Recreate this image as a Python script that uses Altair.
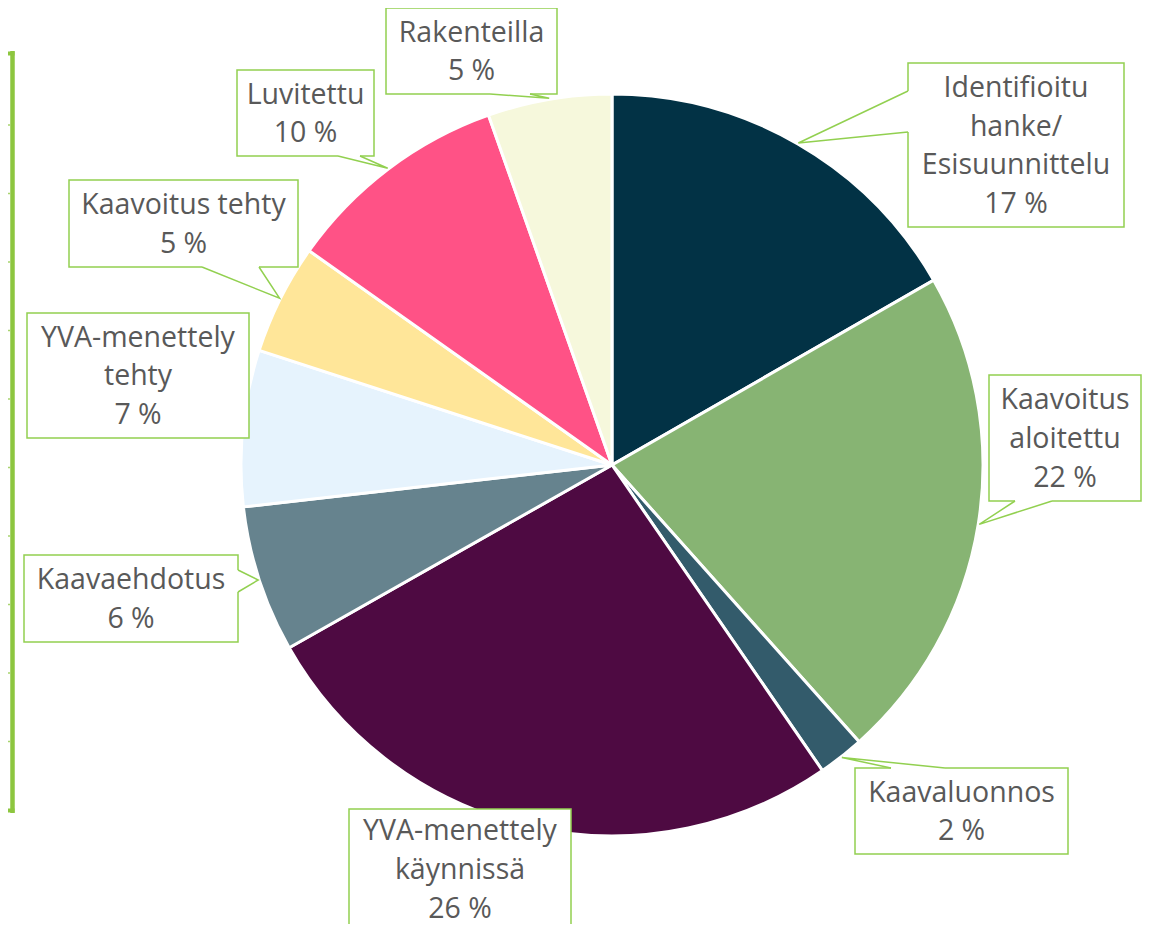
import math
import altair as alt
import pandas as pd

# ---- data ----
categories = [
    "Identifioitu hanke/Esisuunnittelu",
    "Kaavoitus aloitettu",
    "Kaavaluonnos",
    "YVA-menettely käynnissä",
    "Kaavaehdotus",
    "YVA-menettely tehty",
    "Kaavoitus tehty",
    "Luvitettu",
    "Rakenteilla",
]
values = [16.7, 21.7, 2.0, 26.4, 6.4, 6.8, 4.8, 9.8, 5.4]
colors = ["#023245", "#87B473", "#335B6B", "#4E0A42", "#66838E",
          "#E6F3FD", "#FFE699", "#FF5286", "#F6F8DC"]
label_lines = [
    ["Identifioitu", "hanke/", "Esisuunnittelu"],
    ["Kaavoitus", "aloitettu"],
    ["Kaavaluonnos"],
    ["YVA-menettely", "käynnissä"],
    ["Kaavaehdotus"],
    ["YVA-menettely", "tehty"],
    ["Kaavoitus tehty"],
    ["Luvitettu"],
    ["Rakenteilla"],
]

# ---- layout (page pixel coordinates) ----
OFF = 8
W, H = 1137, 916
CX, CY, R = 612 - OFF, 465 - OFF, 371
GREEN = "#92D050"
TEXT = "#595959"
LH = 38.8

# label boxes: x1, y1, x2, y2 and the two base points of the callout wedge
boxes = [
    (908, 63, 1124, 227, [(908, 91), (908, 132)]),
    (989, 375, 1141, 501, [(1015, 501), (1052, 501)]),
    (855, 768, 1068, 854, [(891, 768), (945, 768)]),
    (349, 809, 571, 960, None),
    (24, 555, 238, 642, [(238, 570), (238, 592)]),
    (27, 313, 249, 438, None),
    (69, 180, 298, 267, [(202, 267), (259, 267)]),
    (237, 70, 374, 156, [(338, 156), (360, 156)]),
    (386, 8, 557, 94, [(490, 94), (530, 94)]),
]

df = pd.DataFrame({"category": categories, "value": values,
                   "idx": list(range(len(categories)))})

total = sum(values)
box_rows, text_rows, line_rows, cover_rows = [], [], [], []
cum = 0.0
for i, (cat, v) in enumerate(zip(categories, values)):
    mid = (cum + v / 2) / total
    cum += v
    a = 2 * math.pi * mid
    tx = CX + 372 * math.sin(a)
    ty = CY - 372 * math.cos(a)
    x1, y1, x2, y2, base = boxes[i]
    box_rows.append({"x": x1 - OFF, "y": y1 - OFF, "x2": x2 - OFF, "y2": y2 - OFF})
    pct = f"{round(v / total * 100)} %"
    lines = label_lines[i] + [pct]
    if i == 3:
        first = 831
    else:
        first = (y1 + y2) / 2 + 1 - LH * (len(lines) - 1) / 2
    text_rows.append({"x": (x1 + x2) / 2 - OFF, "y": first - OFF,
                      "t": "\n".join(lines)})
    if base:
        (bx1, by1), (bx2, by2) = base
        for s, (px, py) in enumerate([(bx1, by1), (tx + OFF, ty + OFF), (bx2, by2)]):
            line_rows.append({"id": i, "s": s, "x": px - OFF, "y": py - OFF})
        cover_rows.append({"x": bx1 - OFF, "y": by1 - OFF,
                           "x2": bx2 - OFF, "y2": by2 - OFF})

pie = alt.Chart(df).mark_arc(outerRadius=R, stroke="white", strokeWidth=3).encode(
    theta=alt.Theta("value:Q", stack=True),
    order=alt.Order("idx:Q"),
    color=alt.Color("category:N", scale=alt.Scale(domain=categories, range=colors),
                    legend=None),
    x=alt.value(CX), y=alt.value(CY),
)

box_layer = alt.Chart(pd.DataFrame(box_rows)).mark_rect(
    fill="white", stroke=GREEN, strokeWidth=1.5
).encode(
    x=alt.X("x:Q", scale=None), x2="x2:Q",
    y=alt.Y("y:Q", scale=None), y2="y2:Q",
)

cover_layer = alt.Chart(pd.DataFrame(cover_rows)).mark_rule(
    color="white", strokeWidth=3
).encode(
    x=alt.X("x:Q", scale=None), x2="x2:Q",
    y=alt.Y("y:Q", scale=None), y2="y2:Q",
)

wedge_layer = alt.Chart(pd.DataFrame(line_rows)).mark_line(
    color=GREEN, strokeWidth=1.5
).encode(
    x=alt.X("x:Q", scale=None), y=alt.Y("y:Q", scale=None),
    detail="id:N", order="s:Q",
)

text_layer = alt.Chart(pd.DataFrame(text_rows)).mark_text(
    font="Open Sans", fontSize=28.5, color=TEXT, lineBreak="\n",
    lineHeight=LH, align="center", baseline="middle",
).encode(
    x=alt.X("x:Q", scale=None), y=alt.Y("y:Q", scale=None), text="t:N",
)

# partial frame at the far left
one = pd.DataFrame({"a": [0]})
frame_v = alt.Chart(one).mark_rule(color="#8DC63F", strokeWidth=4.5).encode(
    x=alt.value(12.5 - OFF), y=alt.value(51 - OFF), y2=alt.value(813 - OFF))
frame_t = alt.Chart(one).mark_rule(color="#8DC63F", strokeWidth=4).encode(
    x=alt.value(0), x2=alt.value(14.5 - OFF), y=alt.value(53.5 - OFF))
frame_b = alt.Chart(one).mark_rule(color="#8DC63F", strokeWidth=4).encode(
    x=alt.value(0), x2=alt.value(14.5 - OFF), y=alt.value(810.5 - OFF))
tick_y = [125, 193.5, 262, 330.5, 399, 467.5, 536, 604.5, 673, 741.5]
ticks = alt.Chart(pd.DataFrame({"y": [t - OFF for t in tick_y]})).mark_rule(
    color="#A9D46F", strokeWidth=1.5
).encode(x=alt.value(0), x2=alt.value(11 - OFF), y=alt.Y("y:Q", scale=None))

chart = alt.layer(
    pie, box_layer, cover_layer, wedge_layer, text_layer,
    frame_v, frame_t, frame_b, ticks,
).properties(
    width=W, height=H, padding=0, autosize="none"
).configure_view(stroke=None)

chart.save("out.html", embed_options={"renderer": "svg", "actions": False})
